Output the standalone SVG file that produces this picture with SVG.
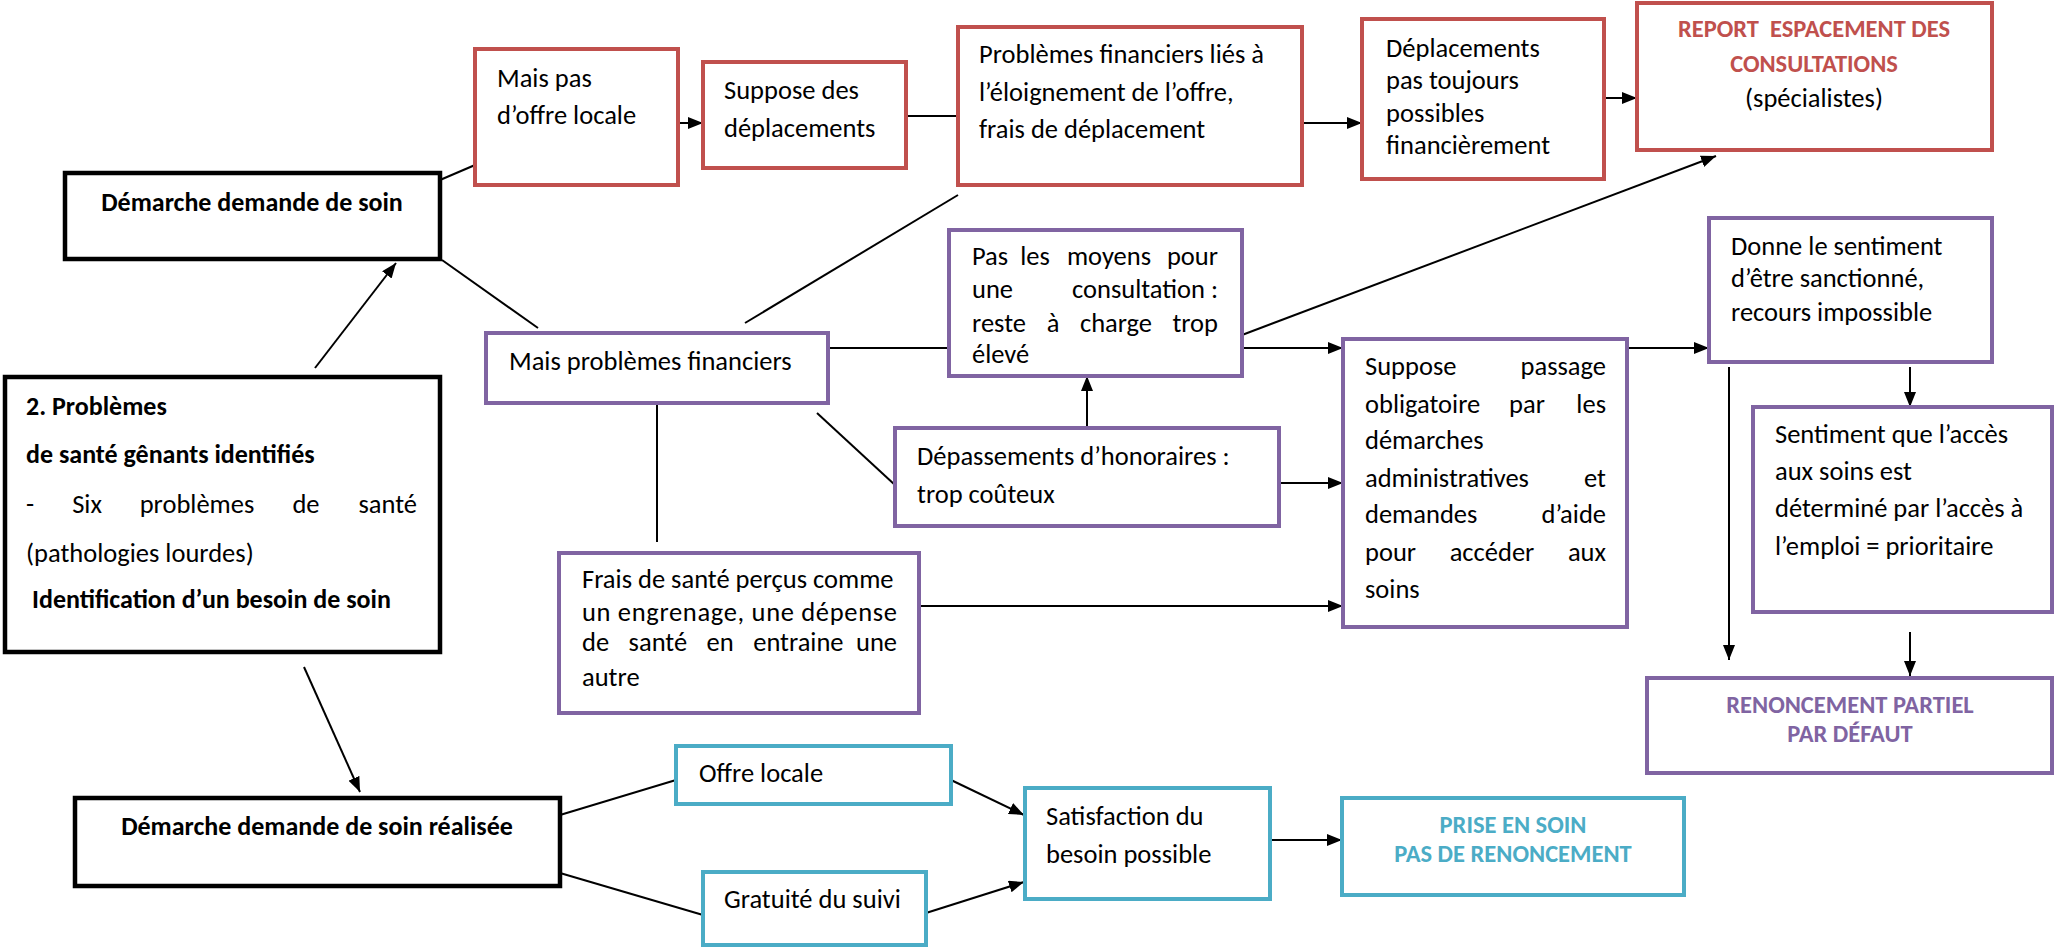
<svg xmlns="http://www.w3.org/2000/svg" width="2054" height="948" viewBox="0 0 2054 948">
<defs>
<marker id="ah" markerUnits="userSpaceOnUse" markerWidth="15" markerHeight="12" refX="15" refY="6" orient="auto"><path d="M0,0 L15,6 L0,12 z" fill="#000"/></marker>
<style>
.bk{fill:#fff;stroke:#000;stroke-width:4.5}
.rd{fill:#fff;stroke:#C0504D;stroke-width:4}
.pu{fill:#fff;stroke:#8064A2;stroke-width:4}
.tl{fill:#fff;stroke:#4BACC6;stroke-width:4}
text{font-family:Carlito,Lato,"Open Sans",sans-serif;font-size:26.5px;fill:#000}
.b{font-weight:bold;font-size:26px}
.k{font-weight:bold;font-size:24.5px}
.c{text-anchor:middle}
.e{text-anchor:end}
.tr{fill:#C0504D}
.tp{fill:#8064A2}
.tt{fill:#4BACC6}
.ln{stroke:#000;stroke-width:2;fill:none}
.ar{stroke:#000;stroke-width:2;fill:none;marker-end:url(#ah)}
</style>
</defs>
<rect width="2054" height="948" fill="#fff"/>
<g id="connectors">
<line class="ln" x1="440" y1="180" x2="475" y2="165"/>
<line class="ar" x1="678" y1="123" x2="703" y2="123"/>
<line class="ln" x1="906" y1="116" x2="958" y2="116"/>
<line class="ar" x1="1302" y1="123" x2="1362" y2="123"/>
<line class="ar" x1="1604" y1="98" x2="1637" y2="98"/>
<line class="ar" x1="315" y1="368" x2="396" y2="263"/>
<line class="ln" x1="442" y1="260" x2="538" y2="328"/>
<line class="ln" x1="958" y1="195" x2="745" y2="323"/>
<line class="ln" x1="828" y1="348" x2="949" y2="348"/>
<line class="ar" x1="1242" y1="335" x2="1716" y2="156"/>
<line class="ar" x1="1242" y1="348" x2="1343" y2="348"/>
<line class="ar" x1="1087" y1="428" x2="1087" y2="376"/>
<line class="ln" x1="817" y1="413" x2="895" y2="485"/>
<line class="ar" x1="1279" y1="483" x2="1343" y2="483"/>
<line class="ln" x1="657" y1="402" x2="657" y2="542"/>
<line class="ar" x1="919" y1="606" x2="1343" y2="606"/>
<line class="ar" x1="1627" y1="348" x2="1709" y2="348"/>
<line class="ar" x1="1910" y1="367" x2="1910" y2="407"/>
<line class="ar" x1="1729" y1="367" x2="1729" y2="660"/>
<line class="ar" x1="1910" y1="632" x2="1910" y2="676"/>
<line class="ar" x1="304" y1="667" x2="360" y2="792"/>
<line class="ln" x1="560" y1="815" x2="676" y2="780"/>
<line class="ln" x1="560" y1="873" x2="703" y2="915"/>
<line class="ar" x1="951" y1="780" x2="1024" y2="815"/>
<line class="ar" x1="926" y1="913" x2="1024" y2="882"/>
<line class="ar" x1="1270" y1="840" x2="1342" y2="840"/>
</g>
<g id="demarche">
<rect class="bk" x="65" y="173" width="375" height="86"/>
<text class="b c" x="252" y="211">Démarche demande de soin</text>
</g>
<g id="problemes">
<rect class="bk" x="5" y="377" width="435" height="275"/>
<text class="b" x="26" y="415">2. Problèmes</text>
<text class="b" x="26" y="463">de santé gênants identifiés</text>
<text x="26" y="513">-</text>
<text class="c" x="87" y="513">Six</text>
<text class="c" x="197" y="513">problèmes</text>
<text class="c" x="306" y="513">de</text>
<text class="e" x="417" y="513">santé</text>
<text x="26" y="562">(pathologies lourdes)</text>
<text class="b" x="32" y="608">Identification d’un besoin de soin</text>
</g>
<g id="realisee">
<rect class="bk" x="75" y="798" width="485" height="88"/>
<text class="b c" x="317" y="835">Démarche demande de soin réalisée</text>
</g>
<g id="maispas">
<rect class="rd" x="475" y="49" width="203" height="136"/>
<text x="497" y="87">Mais pas</text>
<text x="497" y="124">d’offre locale</text>
</g>
<g id="supposedepl">
<rect class="rd" x="703" y="62" width="203" height="106"/>
<text x="724" y="99">Suppose des</text>
<text x="724" y="137">déplacements</text>
</g>
<g id="problies">
<rect class="rd" x="958" y="27" width="344" height="158"/>
<text x="979" y="63">Problèmes financiers liés à</text>
<text x="979" y="101">l’éloignement de l’offre,</text>
<text x="979" y="138">frais de déplacement</text>
</g>
<g id="deplacements">
<rect class="rd" x="1362" y="19" width="242" height="160"/>
<text x="1386" y="57">Déplacements</text>
<text x="1386" y="89">pas toujours</text>
<text x="1386" y="122">possibles</text>
<text x="1386" y="154">financièrement</text>
</g>
<g id="report">
<rect class="rd" x="1637" y="3" width="355" height="147"/>
<text class="k c tr" x="1814" y="37" xml:space="preserve">REPORT  ESPACEMENT DES</text>
<text class="k c tr" x="1814" y="72">CONSULTATIONS</text>
<text class="c" x="1814" y="107">(spécialistes)</text>
</g>
<g id="maisprobfin">
<rect class="pu" x="486" y="333" width="342" height="70"/>
<text x="509" y="370">Mais problèmes financiers</text>
</g>
<g id="pasmoyens">
<rect class="pu" x="949" y="230" width="293" height="146"/>
<text x="972" y="265">Pas</text>
<text class="c" x="1035" y="265">les</text>
<text class="c" x="1109" y="265">moyens</text>
<text class="e" x="1218" y="265">pour</text>
<text x="972" y="298">une</text>
<text class="e" x="1218" y="298">consultation :</text>
<text x="972" y="332">reste</text>
<text class="c" x="1053" y="332">à</text>
<text class="c" x="1116" y="332">charge</text>
<text class="e" x="1218" y="332">trop</text>
<text x="972" y="363">élevé</text>
</g>
<g id="depassements">
<rect class="pu" x="895" y="428" width="384" height="98"/>
<text x="917" y="465">Dépassements d’honoraires :</text>
<text x="917" y="503">trop coûteux</text>
</g>
<g id="frais">
<rect class="pu" x="559" y="553" width="360" height="160"/>
<text x="582" y="588">Frais de santé perçus comme</text>
<text x="582" y="621" textLength="315" lengthAdjust="spacing">un engrenage, une dépense</text>
<text x="582" y="651" word-spacing="13.5">de santé en entraine</text>
<text class="e" x="897" y="651">une</text>
<text x="582" y="686">autre</text>
</g>
<g id="supposepassage">
<rect class="pu" x="1343" y="339" width="284" height="288"/>
<text x="1365" y="375">Suppose</text>
<text class="e" x="1606" y="375">passage</text>
<text x="1365" y="413">obligatoire</text>
<text class="c" x="1527" y="413">par</text>
<text class="e" x="1606" y="413">les</text>
<text x="1365" y="449">démarches</text>
<text x="1365" y="487">administratives</text>
<text class="e" x="1606" y="487">et</text>
<text x="1365" y="523">demandes</text>
<text class="e" x="1606" y="523">d’aide</text>
<text x="1365" y="561">pour</text>
<text class="c" x="1492" y="561">accéder</text>
<text class="e" x="1606" y="561">aux</text>
<text x="1365" y="598">soins</text>
</g>
<g id="donne">
<rect class="pu" x="1709" y="218" width="283" height="144"/>
<text x="1731" y="255">Donne le sentiment</text>
<text x="1731" y="287">d’être sanctionné,</text>
<text x="1731" y="321">recours impossible</text>
</g>
<g id="sentiment">
<rect class="pu" x="1753" y="407" width="299" height="205"/>
<text x="1775" y="443">Sentiment que l’accès</text>
<text x="1775" y="480">aux soins est</text>
<text x="1775" y="517">déterminé par l’accès à</text>
<text x="1775" y="555">l’emploi = prioritaire</text>
</g>
<g id="renoncement">
<rect class="pu" x="1647" y="678" width="405" height="95"/>
<text class="k c tp" x="1850" y="713">RENONCEMENT PARTIEL</text>
<text class="k c tp" x="1850" y="742">PAR DÉFAUT</text>
</g>
<g id="offre">
<rect class="tl" x="676" y="746" width="275" height="58"/>
<text x="699" y="782">Offre locale</text>
</g>
<g id="gratuite">
<rect class="tl" x="703" y="872" width="223" height="73"/>
<text x="724" y="908">Gratuité du suivi</text>
</g>
<g id="satisfaction">
<rect class="tl" x="1025" y="788" width="245" height="111"/>
<text x="1046" y="825">Satisfaction du</text>
<text x="1046" y="863">besoin possible</text>
</g>
<g id="prise">
<rect class="tl" x="1342" y="798" width="342" height="97"/>
<text class="k c tt" x="1513" y="833">PRISE EN SOIN</text>
<text class="k c tt" x="1513" y="862">PAS DE RENONCEMENT</text>
</g>
</svg>
